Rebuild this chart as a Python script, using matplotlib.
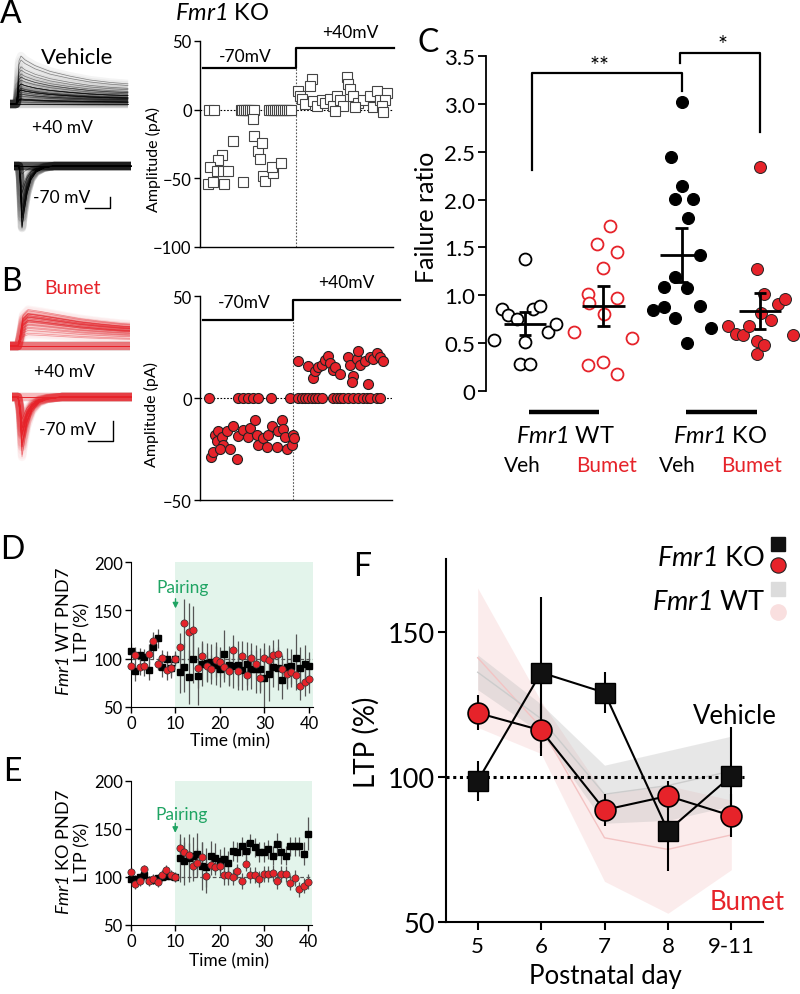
import numpy as np
import matplotlib
matplotlib.use("Agg")
import matplotlib.pyplot as plt

plt.rcParams['font.family'] = ['Lato', 'DejaVu Sans']
plt.rcParams['mathtext.fontset'] = 'custom'
plt.rcParams['mathtext.it'] = 'Lato:italic'
plt.rcParams['mathtext.rm'] = 'Lato:italic'
plt.rcParams['mathtext.bf'] = 'Lato:bold'

# ------------------------------------------------------------------ DATA
# Panel A (Fmr1 KO vehicle): trial index / EPSC amplitude (pA)
A70_ZERO_X = [4.5, 7.5, 21, 22, 23, 24, 25, 26, 27, 28, 36, 37, 38, 39, 40, 41, 42, 43, 44, 45, 46, 47]
A70_X = [4.1, 6.7, 12.4, 11.4, 9.3, 5.2, 8.8, 11.9, 14.5, 17.1, 22.3, 27.5, 28.0, 30.0, 32.0, 31.0,
         32.6, 33.7, 37.8, 37.3, 42.0]
A70_Y = [-54, -53, -54, -33, -37, -42, -45, -45, -45, -23, -53, -7, -19, -30, -24, -36, -48, -52, -46, -42, -39]
A40_X = [50.6, 51.8, 57.9, 57.0, 52.7, 54.4, 58.6, 60.5, 63.0, 64.8, 67.4, 69.0, 70.8, 72.5, 76.0, 76.9,
         77.7, 79.4, 82.0, 74.2, 70.0, 84.6, 88.0, 89.8, 91.5, 93.3, 96.7, 95.8, 94.1, 95.0, 80.3]
A40_Y = [13.5, 10, 22, 17, 7.7, 4, 6, 2.5, 7, 5, 8, 2.5, 10, 7, 24, 18.6, 15, 10, 5, 2.5, -1, 7, 10, 2,
         13.5, 7, 12, 7, 2.5, -2, 2]
A_SWITCH = 49.7
A_HOLD = [30, 45]

# Panel B (Fmr1 KO bumetanide)
B70_ZERO_X = [4.7, 19.8, 22.4, 25.0, 27.6, 30.2, 36.8, 46.9]
B70_X = [5.7, 6.9, 7.8, 9.5, 8.7, 11.3, 12.2, 10.4, 13.9, 15.6, 17.4, 19.1, 20.0, 22.6, 25.2, 26.0,
         28.6, 29.5, 30.4, 33.0, 34.7, 35.6, 37.3, 39.9, 40.8, 42.5, 43.4, 44.3, 45.1, 47.8, 48.6, 48.9]
B70_Y = [-29, -26.7, -18, -16, -21, -19, -23, -25, -16, -25, -13.6, -30, -18.5, -15.5, -19, -14.6,
         -11, -18, -23, -19.4, -24, -18, -13.6, -24, -16, -11, -15, -19, -25, -22.8, -18, -19.4]
B40_ZERO_X = [51.2, 52.9, 54.7, 56.4, 58.2, 59.9, 61.7, 63.4, 69.4, 71.2, 72.9, 74.7, 77.3, 79.9, 82.5,
              85.1, 86.8, 88.5, 92.0, 93.7]
B40_X = [51.2, 56.4, 59.0, 59.9, 61.7, 63.4, 65.1, 66.8, 67.7, 69.4, 70.3, 72.9, 77.3, 78.1, 79.9, 79.0,
         81.6, 83.3, 82.5, 85.9, 87.7, 88.5, 90.3, 92.0, 93.7, 95.5]
B40_Y = [18, 15.5, 9.7, 13, 15, 16, 18.4, 20.4, 17, 13.6, 15, 11.7, 20, 16, 11, 8, 19, 16, 22.8, 18,
         7, 20, 19, 22, 20, 18]
B_SWITCH = 48.4
B_HOLD = [38, 48]

# Normalised EPSC waveforms (ms, fraction of peak)
T40_A = [0, 6, 7, 9, 11, 15, 25, 40, 60, 80, 100, 118]
S40_A = [0, 0, 0.15, 0.9, 1.0, 0.92, 0.8, 0.68, 0.58, 0.5, 0.45, 0.42]
T70_A = [0, 5, 6, 8, 10, 13, 17, 22, 30, 40, 117]
S70_A = [0, 0, -0.2, -1.0, -0.75, -0.45, -0.22, -0.1, -0.03, 0, 0]
T40_B = [0, 8, 10, 13, 18, 30, 50, 70, 90, 110, 120]
S40_B = [0, 0, 0.3, 0.85, 1.0, 0.95, 0.85, 0.75, 0.68, 0.62, 0.6]
T70_B = [0, 6, 8, 10, 12, 15, 20, 27, 35, 50, 120]
S70_B = [0, 0, -0.3, -1.0, -0.8, -0.5, -0.25, -0.1, -0.04, 0, 0]
SCALE_MS, SCALE_PA = 25, 10

# Panel C: failure ratio
C_GROUPS = ['Veh', 'Bumet', 'Veh', 'Bumet']
C_GENO = ['$Fmr1$ WT', '$Fmr1$ KO']
WT_VEH_X = [0.60, 0.70, 0.78, 0.89, 1.0, 1.0, 0.94, 1.06, 1.10, 1.19, 1.29, 1.40]
WT_VEH_Y = [0.53, 0.86, 0.79, 0.75, 0.51, 1.38, 0.28, 0.28, 0.86, 0.89, 0.62, 0.70]
WT_BUM_X = [1.63, 1.80, 1.80, 1.81, 1.92, 1.99, 1.99, 2.01, 2.08, 2.17, 2.18, 2.18, 2.36]
WT_BUM_Y = [0.62, 0.27, 1.01, 0.92, 1.54, 0.30, 1.28, 0.80, 1.72, 1.45, 0.97, 0.18, 0.55]
KO_VEH_X = [3.00, 2.86, 3.01, 2.92, 3.14, 3.08, 3.23, 2.77, 2.92, 3.07, 2.63, 2.78, 3.23, 2.92, 3.38, 3.07]
KO_VEH_Y = [3.02, 2.44, 2.14, 2.01, 2.01, 1.81, 1.42, 1.09, 1.19, 1.08, 0.85, 0.88, 0.89, 0.76, 0.66, 0.50]
KO_BUM_X = [4.00, 3.96, 3.59, 3.70, 3.78, 3.86, 3.96, 3.96, 4.05, 4.05, 4.02, 4.14, 4.23, 4.32, 4.42]
KO_BUM_Y = [2.34, 1.27, 0.68, 0.60, 0.58, 0.68, 0.52, 0.39, 0.48, 1.01, 0.81, 0.74, 0.91, 0.96, 0.59]
C_MEAN = [0.70, 0.89, 1.42, 0.84]
C_LO = [0.58, 0.68, 1.14, 0.65]
C_HI = [0.83, 1.10, 1.70, 1.02]
BR1_X, BR1_Y = [1.09, 1.09, 3.01, 3.01], [2.31, 3.32, 3.32, 3.13]
BR2_X, BR2_Y = [2.98, 2.98, 4.0, 4.0], [3.43, 3.53, 3.53, 2.71]

# Panels D/E: time course (min) of LTP (%)
TIME = list(range(41))
D_VEH = [108, 87, 104, 102, 88, 112, 121, 91, 100, 90, 100, 86, 91, 81, 100, 82, 94, 96, 97, 93, 89,
         105, 93, 92, 93, 88, 95, 89, 89, 89, 80, 84, 91, 90, 78, 91, 92, 101, 90, 94, 92]
D_VEH_SEM = [8, 10, 7, 8, 10, 12, 10, 10, 8, 10, 8, 22, 25, 28, 25, 30, 22, 20, 18, 20, 18, 25, 20,
             22, 25, 20, 22, 20, 25, 22, 30, 28, 20, 22, 20, 20, 18, 25, 22, 20, 15]
D_BUM = [92, 104, 91, 92, 105, 118, 94, 101, 88, 90, 100, 112, 137, 128, 130, 90, 103, 92, 89, 99, 97,
         91, 87, 109, 87, 103, 83, 101, 94, 80, 101, 99, 104, 105, 89, 84, 86, 83, 72, 76, 79]
D_BUM_SEM = [8, 8, 8, 10, 10, 10, 6, 8, 10, 8, 6, 15, 25, 30, 25, 20, 15, 15, 15, 18, 15, 15, 15, 15,
             15, 15, 15, 15, 15, 15, 15, 15, 15, 15, 15, 15, 15, 15, 15, 15, 15]
E_VEH = [98, 98, 100, 102, 97, 97, 99, 100, 101, 101, 100, 120, 117, 120, 122, 124, 111, 110, 122, 120,
         117, 119, 115, 127, 126, 132, 127, 135, 131, 126, 126, 129, 122, 134, 126, 122, 132, 132, 132, 124, 145]
E_VEH_SEM = [4, 4, 4, 5, 4, 4, 4, 4, 4, 4, 4, 25, 25, 25, 20, 22, 25, 20, 15, 15, 12, 12, 12, 10, 10,
             10, 10, 10, 10, 10, 10, 10, 10, 12, 12, 10, 10, 10, 10, 12, 17]
E_BUM = [105, 93, 96, 108, 96, 98, 95, 102, 107, 102, 100, 130, 126, 123, 111, 115, 121, 101, 112, 110,
         111, 102, 102, 100, 106, 96, 114, 102, 102, 98, 103, 103, 104, 96, 103, 103, 94, 99, 87, 91, 95]
E_BUM_SEM = [5, 5, 5, 5, 5, 5, 5, 5, 5, 5, 5, 10, 10, 12, 15, 15, 15, 18, 10, 8, 10, 10, 10, 8, 8, 8,
             8, 8, 8, 8, 8, 8, 8, 8, 8, 8, 8, 8, 8, 8, 8]
PAIRING_T = 10

# Panel F: LTP vs postnatal day
F_DAYS = ['5', '6', '7', '8', '9-11']
F_KO_VEH = [98.6, 135.9, 129, 81.4, 100.3]
F_KO_VEH_SEM = [7, 26, 7, 14, 17]
F_KO_BUM = [122, 116, 88.6, 93.4, 86.6]
F_KO_BUM_SEM = [6, 9, 5.5, 5, 7.5]
F_WT_VEH = [136, 120, 94, 97, 102]
F_WT_VEH_SEM = [6, 5, 10, 12, 12]
F_WT_BUM = [141, 117, 79, 75, 80]
F_WT_BUM_SEM = [24, 9, 15, 22, 12]

# ------------------------------------------------------------------ STYLE
RED = '#e6232a'
GREEN = '#1fa463'
SHADE = '#e3f4eb'
W, H = 800, 995
fig = plt.figure(figsize=(8, 9.95), dpi=100)


def ax_px(x0, y0, x1, y1):
    return fig.add_axes([x0 / W, 1 - y1 / H, (x1 - x0) / W, (y1 - y0) / H])


def txt(x, y, s, **kw):
    kw.setdefault('ha', 'center')
    kw.setdefault('va', 'center')
    return fig.text(x / W, 1 - y / H, s, **kw)


def trace_ax(x0, x1, ytop, ybot, ybase, ppp):
    ax = ax_px(x0, ytop, x1, ybot)
    ax.set_xlim(0, x1 - x0)
    ax.set_ylim(-(ybot - ybase) / ppp, (ybase - ytop) / ppp)
    ax.axis('off')
    return ax


def draw_traces(ax, t, shape, amps, color, band=6.0):
    t = np.asarray(t)
    shape = np.asarray(shape)
    for a in amps:
        ax.plot(t, abs(a) * shape, color=color, lw=band, alpha=0.045, solid_capstyle='butt')
        ax.plot(t, abs(a) * shape, color=color, lw=0.5, alpha=0.45)


# ------------------------------------------------------------------ A / B traces
axa1 = trace_ax(10, 130, 35, 120, 105, 2.0)
draw_traces(axa1, T40_A, S40_A, A40_Y + [0, 0, 0, 0], 'k')
axa2 = trace_ax(14, 134, 150, 240, 167, 1.15)
draw_traces(axa2, T70_A, S70_A, A70_Y + [0] * len(A70_ZERO_X), 'k')
sb_y = -(209 - 167) / 1.15
axa2.plot([96 - SCALE_MS, 96, 96], [sb_y, sb_y, sb_y + SCALE_PA], color='k', lw=1)

axb1 = trace_ax(10, 130, 290, 360, 347, 1.6)
draw_traces(axb1, T40_B, S40_B, B40_Y + [0] * len(B40_ZERO_X), RED)
axb2 = trace_ax(12, 132, 385, 470, 398, 2.0)
draw_traces(axb2, T70_B, S70_B, B70_Y + [0] * len(B70_ZERO_X), RED)
sb_y = -(442 - 398) / 2.0
axb2.plot([101 - SCALE_MS, 101, 101], [sb_y, sb_y, sb_y + SCALE_PA], color='k', lw=1)

txt(77, 58, 'Vehicle', fontsize=16)
txt(62, 128, '+40 mV', fontsize=12.5)
txt(62, 198, '-70 mV', fontsize=12.5)
txt(73, 288, 'Bumet', fontsize=14, color=RED)
txt(64, 372, '+40 mV', fontsize=12.5)
txt(68, 430, '-70 mV', fontsize=12.5)


# ------------------------------------------------------------------ A / B scatter
def amp_axes(rect, ylim, yticks, switch, hold, zx, x70, y70, x40, y40, z40, marker, mfc, mec, step_end):
    ax = ax_px(*rect)
    ax.set_xlim(0, 100)
    ax.set_ylim(*ylim)
    for s in ['top', 'right']:
        ax.spines[s].set_visible(False)
    ax.spines['left'].set_linewidth(1.0)
    ax.spines['bottom'].set_linewidth(1.0)
    ax.set_xticks([])
    ax.set_yticks(yticks)
    ax.tick_params(axis='y', length=4, width=1, pad=2, labelsize=12)
    ax.axhline(0, color='k', lw=0.8, ls=(0, (1.5, 1.5)), zorder=1)
    ax.plot([switch, switch], [ylim[0], hold[0]], color='#555555', lw=0.8, ls=(0, (1.5, 1.5)), zorder=1)
    ax.plot([1.5, switch, switch, step_end], [hold[0], hold[0], hold[1], hold[1]], color='k', lw=1.6,
            clip_on=False, zorder=3)
    kw = dict(ls='none', marker=marker, ms=7.2, mfc=mfc, mec=mec, zorder=4, clip_on=False)
    ax.plot(zx, [0] * len(zx), mew=0.8, **kw)
    ax.plot(z40, [0] * len(z40), mew=0.8, **kw)
    ax.plot(x70, y70, mew=0.8, **kw)
    ax.plot(x40, y40, mew=0.8, **kw)
    return ax


amp_axes((200, 42, 393, 248), (-100, 50), [50, 0, -50, -100], A_SWITCH, A_HOLD, A70_ZERO_X, A70_X, A70_Y,
         A40_X, A40_Y, [], 's', 'white', '#444444', 100.5)
amp_axes((200, 297, 392, 501), (-50, 50), [50, 0, -50], B_SWITCH, B_HOLD, B70_ZERO_X, B70_X, B70_Y,
         B40_X, B40_Y, B40_ZERO_X, 'o', RED, '#222222', 104)

txt(222, 14, '$Fmr1$ KO', fontsize=17)
txt(245, 57, '-70mV', fontsize=12.5)
txt(350, 33, '+40mV', fontsize=12.5)
txt(244, 303, '-70mV', fontsize=12.5)
txt(346, 283, '+40mV', fontsize=12.5)
txt(153, 160, 'Amplitude (pA)', fontsize=11.5, rotation=90)
txt(151, 415, 'Amplitude (pA)', fontsize=11.5, rotation=90)

# ------------------------------------------------------------------ C
axc = ax_px(486, 57, 799, 392)
axc.set_xlim(0.5, 4.5)
axc.set_ylim(0, 3.5)
for s in ['top', 'right', 'bottom']:
    axc.spines[s].set_visible(False)
axc.spines['left'].set_linewidth(1.3)
axc.set_xticks([])
axc.set_yticks([0, 0.5, 1.0, 1.5, 2.0, 2.5, 3.0, 3.5])
axc.set_yticklabels(['0', '0.5', '1.0', '1.5', '2.0', '2.5', '3.0', '3.5'])
axc.tick_params(axis='y', length=6, width=1.3, pad=2, labelsize=16)
ck = dict(ls='none', marker='o', ms=8.6, zorder=3, clip_on=False)
axc.plot(WT_VEH_X, WT_VEH_Y, mfc='white', mec='k', mew=1.3, **ck)
axc.plot(WT_BUM_X, WT_BUM_Y, mfc='white', mec=RED, mew=1.3, **ck)
axc.plot(KO_VEH_X, KO_VEH_Y, mfc='k', mec='k', mew=0.8, **ck)
axc.plot(KO_BUM_X, KO_BUM_Y, mfc=RED, mec='#222222', mew=0.7, **ck)
pos = np.arange(1, 5)
axc.hlines(C_MEAN, pos - 0.27, pos + 0.27, color='k', lw=2.0, zorder=5)
axc.vlines(pos, C_LO, C_HI, color='k', lw=2.0, zorder=5)
axc.hlines(C_LO, pos - 0.08, pos + 0.08, color='k', lw=2.0, zorder=5)
axc.hlines(C_HI, pos - 0.08, pos + 0.08, color='k', lw=2.0, zorder=5)
axc.plot(BR1_X, BR1_Y, color='k', lw=1.6, clip_on=False)
axc.plot(BR2_X, BR2_Y, color='k', lw=1.6, clip_on=False)
axc.text(1.95, 3.40, '**', fontsize=17, ha='center', va='center')
axc.text(3.52, 3.62, '*', fontsize=17, ha='center', va='center', clip_on=False)
axc.plot([1.05, 1.95], [-0.22, -0.22], color='k', lw=3.2, clip_on=False, solid_capstyle='butt')
axc.plot([3.05, 3.96], [-0.22, -0.22], color='k', lw=3.2, clip_on=False, solid_capstyle='butt')
axc.text(1.51, -0.47, C_GENO[0], fontsize=17, ha='center', va='center', clip_on=False)
axc.text(3.49, -0.47, C_GENO[1], fontsize=17, ha='center', va='center', clip_on=False)
for xg, lab, col in zip([0.97, 2.04, 2.95, 3.90], C_GROUPS, ['k', RED, 'k', RED]):
    axc.text(xg, -0.77, lab, fontsize=15, ha='center', va='center', color=col, clip_on=False)
txt(427, 217, 'Failure ratio', fontsize=18, rotation=90)


# ------------------------------------------------------------------ D / E
def ltp_axes(rect, veh, vsem, bum, bsem, pair_y):
    ax = ax_px(*rect)
    ax.set_xlim(0, 40.9)
    ax.set_ylim(50, 200)
    for s in ['top', 'right']:
        ax.spines[s].set_visible(False)
    ax.axvspan(PAIRING_T, 40.9, color=SHADE, zorder=0, lw=0)
    ax.axhline(100, color='#555555', lw=0.9, ls=(0, (3, 2)), zorder=1)
    ax.errorbar(TIME, veh, yerr=vsem, fmt='none', ecolor='#555555', elinewidth=0.9, zorder=2)
    ax.errorbar(TIME, bum, yerr=bsem, fmt='none', ecolor='#555555', elinewidth=0.9, zorder=2)
    ax.plot(TIME, veh, ls='none', marker='s', ms=4.6, mfc='k', mec='k', zorder=3, clip_on=False)
    ax.plot(TIME, bum, ls='none', marker='o', ms=5.2, mfc=RED, mec='#333333', mew=0.5, zorder=4,
            clip_on=False)
    ax.set_xticks([0, 10, 20, 30, 40])
    ax.set_yticks([50, 100, 150, 200])
    ax.tick_params(length=4, width=1, pad=2, labelsize=12)
    ax.text(PAIRING_T + 1.5, pair_y[0], 'Pairing', color=GREEN, fontsize=12.5, ha='center', va='center')
    ax.annotate('', xy=(PAIRING_T, pair_y[2]), xytext=(PAIRING_T, pair_y[1]),
                arrowprops=dict(arrowstyle='-|>', color=GREEN, lw=1.0, mutation_scale=8,
                                shrinkA=0, shrinkB=0))
    return ax


ltp_axes((131, 563, 313, 708), D_VEH, D_VEH_SEM, D_BUM, D_BUM_SEM, (174, 162, 152))
ltp_axes((131, 782, 312, 926), E_VEH, E_VEH_SEM, E_BUM, E_BUM_SEM, (166, 156, 146))
txt(230, 741, 'Time (min)', fontsize=12.5)
txt(229, 961, 'Time (min)', fontsize=12.5)
txt(73, 632, '$Fmr1$ WT PND7\nLTP (%)', fontsize=13, rotation=90, linespacing=1.2)
txt(73, 852, '$Fmr1$ KO PND7\nLTP (%)', fontsize=13, rotation=90, linespacing=1.2)

# ------------------------------------------------------------------ F
axf = ax_px(446, 560, 763, 923)
axf.set_xlim(-0.5, 4.5)
axf.set_ylim(50, 175)
for s in ['top', 'right']:
    axf.spines[s].set_visible(False)
axf.spines['left'].set_linewidth(1.5)
axf.spines['bottom'].set_linewidth(1.5)
xd = np.arange(len(F_DAYS))
wv, wvs = np.array(F_WT_VEH), np.array(F_WT_VEH_SEM)
wb, wbs = np.array(F_WT_BUM), np.array(F_WT_BUM_SEM)
axf.fill_between(xd, wb - wbs, wb + wbs, color='#f6c9c9', alpha=0.35, lw=0, zorder=1)
axf.fill_between(xd, wv - wvs, wv + wvs, color='#bdbdbd', alpha=0.35, lw=0, zorder=1)
axf.plot(xd, wb, color='#f3c3c3', lw=1.0, zorder=1)
axf.plot(xd, wv, color='#cccccc', lw=1.0, zorder=1)
axf.plot([-0.5, 4.2], [100, 100], color='k', lw=2.2, ls=(0, (1, 1.2)), zorder=2)
axf.errorbar(xd, F_KO_VEH, yerr=F_KO_VEH_SEM, fmt='none', ecolor='k', elinewidth=1.5, zorder=3)
axf.plot(xd, F_KO_VEH, color='k', lw=1.5, marker='s', ms=14, mfc='#111111', mec='k', zorder=4)
axf.errorbar(xd, F_KO_BUM, yerr=F_KO_BUM_SEM, fmt='none', ecolor='k', elinewidth=1.5, zorder=5)
axf.plot(xd, F_KO_BUM, color='k', lw=1.5, marker='o', ms=15, mfc=RED, mec='k', mew=1.2, zorder=6)
axf.set_xticks(xd)
axf.set_xticklabels(F_DAYS)
axf.set_yticks([50, 100, 150])
axf.tick_params(axis='x', length=6, width=1.5, pad=4, labelsize=16)
axf.tick_params(axis='y', length=6, width=1.5, pad=2, labelsize=19.5)
axf.text(4.06, 121, 'Vehicle', fontsize=18.5, ha='center', va='center')
axf.text(4.25, 57, 'Bumet', fontsize=18.5, ha='center', va='center', color=RED)
lk = dict(ls='none', clip_on=False, zorder=6)
axf.plot([4.74], [180.3], marker='s', ms=10, mfc='#111111', mec='#111111', **lk)
axf.plot([4.74], [173.1], marker='o', ms=11, mfc=RED, mec='#222222', mew=0.8, **lk)
axf.plot([4.74], [164.8], marker='s', ms=10, mfc='#dcdcdc', mec='#dcdcdc', **lk)
axf.plot([4.74], [156.6], marker='o', ms=11, mfc='#f9dfdf', mec='#f9dfdf', **lk)
txt(765, 558, '$Fmr1$ KO', fontsize=19.5, ha='right')
txt(765, 603, '$Fmr1$ WT', fontsize=19.5, ha='right')
txt(366, 742, 'LTP (%)', fontsize=20, rotation=90)
txt(605, 977, 'Postnatal day', fontsize=18.5)

# ------------------------------------------------------------------ panel letters
for lx, ly, l in [(11, 14, 'A'), (11, 282, 'B'), (428, 43, 'C'), (12, 550, 'D'), (12, 772, 'E'),
                  (362, 567, 'F')]:
    txt(lx, ly, l, fontsize=23)

fig.savefig('out.png', dpi=100)
